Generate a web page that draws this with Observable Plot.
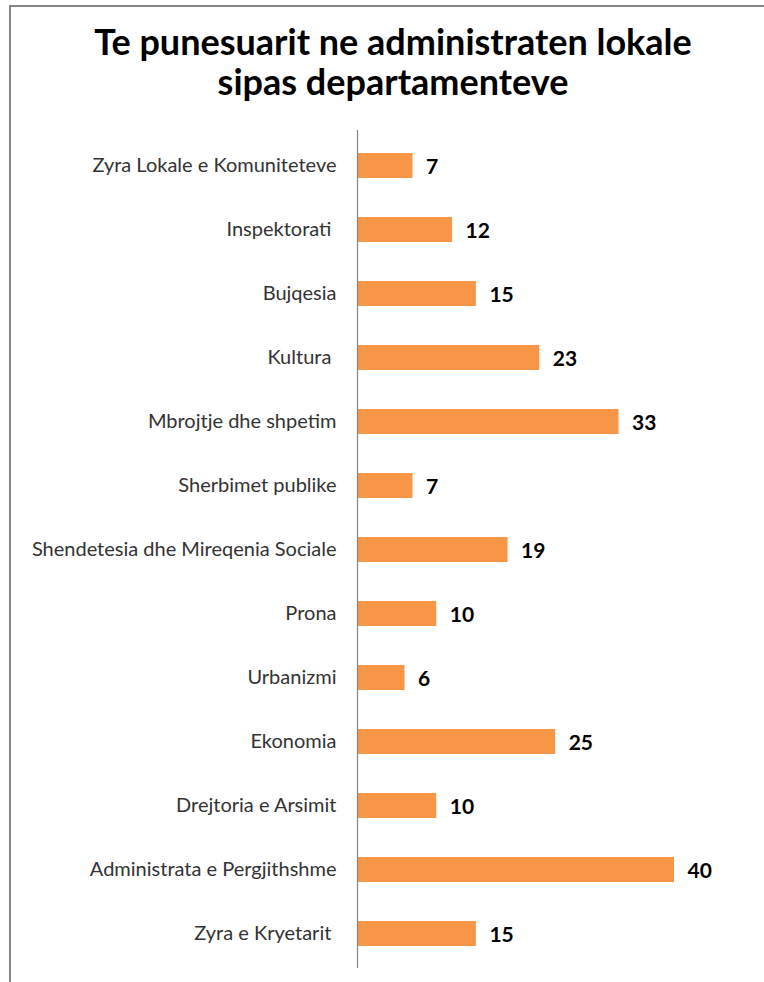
<!DOCTYPE html>
<html>
<head>
<meta charset="utf-8">
<script src="https://cdn.jsdelivr.net/npm/d3@7"></script>
<script src="https://cdn.jsdelivr.net/npm/@observablehq/plot@0.6"></script>
<style>
  html, body { margin: 0; padding: 0; background: #fff; }
  #wrap { position: relative; width: 764px; height: 982px; overflow: hidden; font-family: Lato, "Open Sans", sans-serif; }
  #frame { position: absolute; left: 9px; top: 5px; right: -10px; bottom: -10px; border-left: 2px solid #868686; border-top: 2px solid #868686; }
  #title { position: absolute; left: 0; top: 0; width: 764px; height: 130px; box-sizing: border-box; padding-top: 21px; padding-left: 22px; text-align: center; font-weight: 700; font-size: 36px; line-height: 40px; color: #000; }
  #chart { position: absolute; left: 0; top: 130px; }
</style>
</head>
<body>
<div id="wrap">
  <div id="frame"></div>
  <div id="title">Te punesuarit ne administraten lokale<br>sipas departamenteve</div>
  <div id="chart"></div>
</div>
<script>
const departments = [
  "Zyra Lokale e Komuniteteve",
  "Inspektorati ",
  "Bujqesia",
  "Kultura ",
  "Mbrojtje dhe shpetim",
  "Sherbimet publike",
  "Shendetesia dhe Mireqenia Sociale",
  "Prona",
  "Urbanizmi",
  "Ekonomia",
  "Drejtoria e Arsimit",
  "Administrata e Pergjithshme",
  "Zyra e Kryetarit "
];
const employees = [7, 12, 15, 23, 33, 7, 19, 10, 6, 25, 10, 40, 15];

const data = departments.map((d, i) => ({department: d, value: employees[i]}));

const chart = Plot.plot({
  width: 764,
  height: 852,
  marginTop: 0,
  marginBottom: 14,
  marginLeft: 357,
  marginRight: 90,
  style: {fontFamily: "Lato, 'Open Sans', sans-serif", background: "transparent"},
  x: {domain: [0, 40], axis: null},
  y: {domain: departments, paddingInner: 0.612, paddingOuter: 0.315, label: null},
  marks: [
    Plot.barX(data, {y: "department", x: "value", fill: "#F79646"}),
    Plot.text(data, {y: "department", x: "value", text: d => String(d.value), textAnchor: "start", dx: 13, dy: 1, fontSize: 21, fontWeight: "bold", fill: "#000"}),
    Plot.ruleX([0], {stroke: "#868686", strokeWidth: 1.2}),
    Plot.axisY({tickSize: 0, tickPadding: 21, fontSize: 20, color: "#333", label: null})
  ]
});
document.getElementById("chart").appendChild(chart);
chart.querySelectorAll("text").forEach(t => t.style.whiteSpace = "pre");
</script>
</body>
</html>
